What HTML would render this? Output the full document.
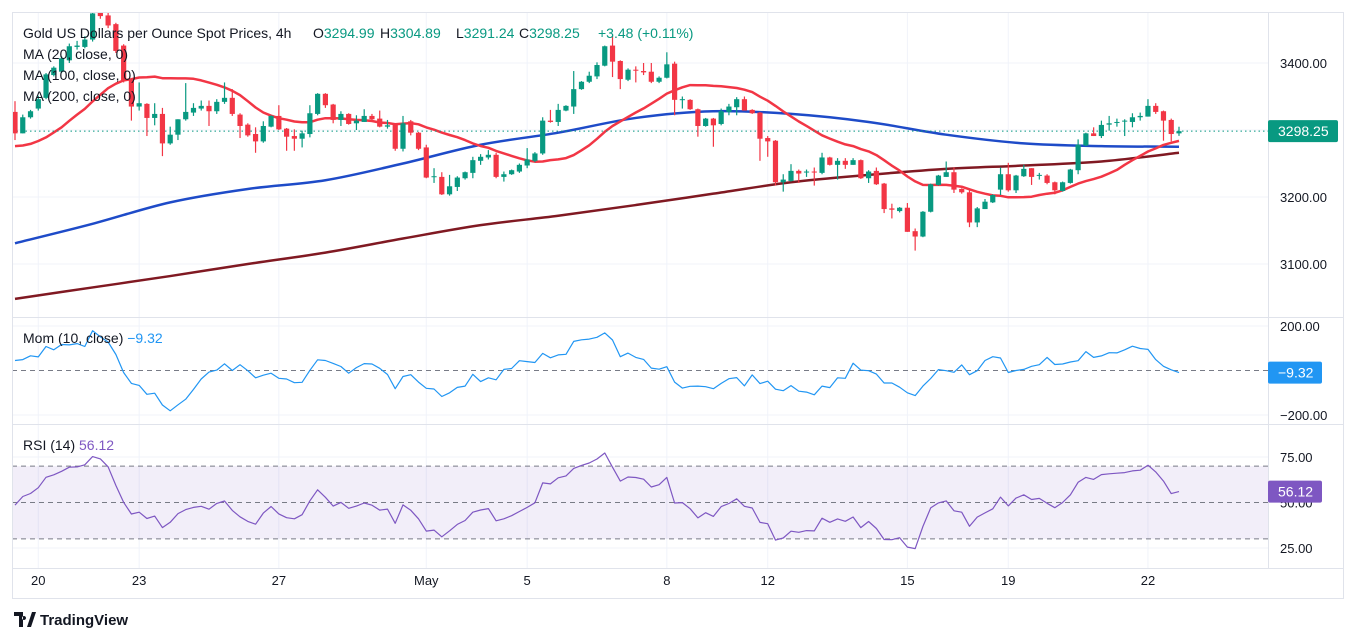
<!DOCTYPE html>
<html><head><meta charset="utf-8"><style>
html,body{margin:0;padding:0;background:#fff;width:1356px;height:641px;overflow:hidden}
svg{display:block;font-family:"Liberation Sans",sans-serif}
</style></head><body>
<svg id="chart" width="1356" height="641" viewBox="0 0 1356 641">
<defs>
<clipPath id="clipMain"><rect x="12" y="12" width="1256" height="305"/></clipPath>
<clipPath id="clipMom"><rect x="12" y="318" width="1256" height="106"/></clipPath>
<clipPath id="clipRsi"><rect x="12" y="425" width="1256" height="143"/></clipPath>
</defs>
<g id="grid"></g>
<g id="main" clip-path="url(#clipMain)"></g>
<g id="mom" clip-path="url(#clipMom)"></g>
<g id="rsi" clip-path="url(#clipRsi)"></g>
<g id="axes"></g>
<g id="legend">
 <text x="23" y="38" font-size="14" fill="#131722">Gold US Dollars per Ounce Spot Prices, 4h<tspan x="313">O</tspan><tspan fill="#089981">3294.99</tspan><tspan x="380">H</tspan><tspan fill="#089981">3304.89</tspan><tspan x="456">L</tspan><tspan fill="#089981">3291.24</tspan><tspan x="519">C</tspan><tspan fill="#089981">3298.25</tspan><tspan x="598" fill="#089981">+3.48 (+0.11%)</tspan></text>
 <text x="23" y="59" font-size="14" fill="#131722">MA (20, close, 0)</text>
 <text x="23" y="80" font-size="14" fill="#131722">MA (100, close, 0)</text>
 <text x="23" y="101" font-size="14" fill="#131722">MA (200, close, 0)</text>
 <text x="23" y="343" font-size="14" fill="#131722">Mom (10, close) <tspan fill="#2196f3">−9.32</tspan></text>
 <text x="23" y="450" font-size="14" fill="#131722">RSI (14) <tspan fill="#7e57c2">56.12</tspan></text>
</g>
<g>
 <path d="M14 612h9v15h-4v-11h-5z M24 616a2 2 0 1 0 0.01 0z M27 627l5-15h4l-5 15z" fill="#131722"/>
 <text x="40" y="625" font-size="15" font-weight="bold" fill="#131722">TradingView</text>
</g>
</svg>
<script>
const opens=[3327,3295,3319,3332,3348,3382,3387,3404,3424,3424,3435,3485,3471,3458,3426,3375,3335,3339,3318,3324,3280,3293,3316,3326,3332,3336,3328,3342,3348,3323,3308,3294,3283,3305,3321,3302,3291,3287,3294,3324,3354,3338,3315,3324,3310,3312,3321,3317,3305,3308,3272,3313,3296,3274,3230,3230,3204,3215,3228,3236,3254,3259,3263,3230,3234,3238,3247,3254,3265,3314,3312,3329,3335,3361,3372,3380,3396,3426,3403,3375,3390,3388,3387,3372,3378,3399,3345,3345,3331,3306,3317,3309,3327,3334,3346,3330,3326,3288,3284,3222,3224,3239,3237,3238,3236,3259,3248,3254,3248,3255,3228,3239,3220,3183,3179,3184,3149,3141,3178,3218,3230,3237,3212,3207,3162,3182,3192,3211,3234,3210,3231,3243,3232,3232,3222,3209,3221,3240,3277,3295,3291,3308,3311,3313,3312,3319,3320,3336,3328,3315,3294.99];
const highs=[3343,3323,3330,3351,3385,3395,3410,3429,3433,3440,3480,3500,3475,3460,3428,3376,3371,3340,3340,3333,3305,3316,3370,3340,3344,3344,3346,3371,3361,3325,3310,3304,3313,3322,3337,3303,3301,3299,3337,3355,3355,3339,3328,3325,3322,3331,3324,3329,3315,3309,3321,3315,3297,3278,3243,3237,3233,3231,3238,3260,3264,3270,3266,3238,3241,3250,3273,3267,3319,3330,3339,3337,3388,3373,3387,3401,3426,3440,3404,3392,3395,3400,3400,3380,3416,3402,3350,3346,3332,3318,3318,3332,3339,3349,3350,3331,3327,3291,3285,3234,3249,3241,3241,3244,3266,3260,3258,3258,3258,3256,3240,3244,3221,3190,3185,3191,3153,3179,3220,3233,3253,3244,3213,3210,3185,3197,3204,3244,3251,3233,3248,3243,3236,3234,3223,3223,3242,3286,3296,3304,3314,3321,3317,3316,3325,3326,3346,3340,3329,3317,3304.89];
const lows=[3285,3295,3317,3329,3346,3380,3385,3400,3420,3422,3432,3466,3452,3415,3371,3314,3329,3291,3307,3261,3278,3285,3314,3321,3329,3306,3324,3339,3321,3288,3290,3266,3281,3304,3300,3269,3269,3274,3289,3322,3333,3310,3306,3308,3300,3312,3312,3304,3302,3269,3268,3292,3270,3228,3221,3203,3202,3209,3226,3228,3248,3256,3228,3223,3233,3236,3243,3252,3263,3311,3306,3328,3324,3360,3370,3376,3395,3379,3361,3373,3371,3382,3370,3370,3377,3322,3332,3330,3290,3305,3275,3307,3322,3322,3329,3324,3254,3260,3217,3208,3223,3221,3230,3217,3234,3247,3226,3242,3248,3227,3221,3218,3176,3168,3177,3148,3120,3140,3177,3217,3230,3206,3205,3155,3155,3182,3191,3203,3208,3206,3230,3218,3226,3219,3204,3208,3220,3234,3276,3291,3288,3299,3305,3291,3304,3314,3320,3324,3284,3283,3291.24];
const closes=[3295,3319,3328,3346,3383,3393,3407,3425,3426,3435,3474,3470,3456,3418,3374,3335,3340,3318,3324,3280,3293,3316,3327,3333,3336,3328,3342,3348,3324,3306,3292,3283,3306,3321,3301,3290,3287,3295,3325,3354,3337,3315,3324,3309,3314,3321,3316,3305,3307,3272,3310,3296,3272,3229,3231,3204,3216,3229,3237,3255,3260,3263,3230,3234,3240,3248,3256,3265,3314,3312,3330,3336,3361,3372,3381,3397,3425,3402,3376,3390,3389,3386,3372,3378,3398,3345,3346,3331,3306,3317,3307,3328,3335,3346,3329,3325,3287,3283,3222,3226,3239,3235,3238,3237,3259,3248,3254,3248,3255,3228,3238,3219,3182,3181,3184,3148,3141,3178,3219,3232,3237,3211,3207,3162,3183,3193,3203,3234,3210,3232,3242,3230,3233,3221,3210,3222,3241,3278,3295,3291,3307.57,3310,3312,3314,3319,3321,3336,3327,3314,3294,3298.25];
const priorCloses=[3300,3280,3260,3275,3245,3255,3230,3240,3265,3250,3270,3262,3285,3275,3300,3290,3310,3305,3327];
const ma100Idx=[0,10,20,30,40,50,60,70,80,90,100,110,120,130,140,150];
const ma100Vals=[3131,3160,3192,3212,3225,3250,3278,3296,3318,3328,3324,3312,3293,3280,3276,3275];
const ma200Idx=[0,10,20,30,40,50,60,70,80,90,100,110,120,130,140,150];
const ma200Vals=[3048,3065,3082,3100,3117,3138,3158,3172,3188,3205,3222,3233,3242,3247,3253,3266];
const dateLabels=["20","23","27","May","5","8","12","15","19","22"];
const dateIdx=[3,16,34,53,66,84,97,115,128,146];
const priceTicks=[3400,3200,3100];
const priceGrid=[3400,3300,3200,3100];
const momTicks=[200,-200];
const rsiTicks=[75,50,25];
const lastPriceLabel="3298.25";
const lastMomLabel="−9.32";
const lastRsiLabel="56.12";

const NS="http://www.w3.org/2000/svg";
function mk(tag,attrs,parent){const e=document.createElementNS(NS,tag);for(const k in attrs)e.setAttribute(k,attrs[k]);parent.appendChild(e);return e;}
const X0=15,DX=7.76;
const xOf=i=>X0+DX*i;
const yP=p=>63+(3400-p)*0.67;
const yM=v=>370.5-v*0.2225;
const yR=v=>457+(75-v)*1.82;
const G=document.getElementById('grid'),M=document.getElementById('main'),MO=document.getElementById('mom'),R=document.getElementById('rsi'),A=document.getElementById('axes');

priceGrid.forEach(p=>{const l=mk('line',{x1:12,x2:1268,y1:yP(p),y2:yP(p),stroke:'#f0f3fa'},G);

});
momTicks.forEach(v=>{const l=mk('line',{x1:12,x2:1268,y1:yM(v),y2:yM(v),stroke:'#f0f3fa'},G);

});
[75,25].forEach(v=>{const l=mk('line',{x1:12,x2:1268,y1:yR(v),y2:yR(v),stroke:'#f0f3fa'},G);

});
dateIdx.forEach(i=>{const l=mk('line',{x1:xOf(i),x2:xOf(i),y1:12,y2:568,stroke:'#f0f3fa'},G);

});

function poly(pts,color,w,parent,name){const p=mk('polyline',{points:pts.map(q=>q[0].toFixed(1)+','+q[1].toFixed(1)).join(' '),fill:'none',stroke:color,'stroke-width':w,'stroke-linejoin':'round'},parent);


return p;}
function smooth(pts,color,w,parent,name){let d='M'+pts[0][0]+','+pts[0][1];
for(let i=0;i<pts.length-1;i++){const p0=pts[i-1]||pts[i],p1=pts[i],p2=pts[i+1],p3=pts[i+2]||p2;
d+=' C'+(p1[0]+(p2[0]-p0[0])/6)+','+(p1[1]+(p2[1]-p0[1])/6)+' '+(p2[0]-(p3[0]-p1[0])/6)+','+(p2[1]-(p3[1]-p1[1])/6)+' '+p2[0]+','+p2[1];}
const p=mk('path',{d,fill:'none',stroke:color,'stroke-width':w},parent);


return p;}
const all=priorCloses.concat(closes);const P=priorCloses.length;
smooth(ma200Idx.map((i,k)=>[xOf(i),yP(ma200Vals[k])]),'#801922',2.5,M,'ma200-line');
smooth(ma100Idx.map((i,k)=>[xOf(i),yP(ma100Vals[k])]),'#1e4bc8',2.5,M,'ma100-line');
const ma20=[];for(let i=0;i<closes.length;i++){let s=0;for(let k=0;k<20;k++)s+=all[P+i-k];ma20.push([xOf(i),yP(s/20)]);}
poly(ma20,'#f23645',2.5,M,'ma20-line');

const lp=mk('line',{x1:12,x2:1268,y1:yP(closes[closes.length-1]),y2:yP(closes[closes.length-1]),stroke:'#089981','stroke-dasharray':'1.5 3'},M);



for(let i=0;i<closes.length;i++){
 const up=closes[i]>=opens[i];const c=up?'#089981':'#f23645';const x=xOf(i);
 const g=mk('g',{},M);
 
 
 mk('line',{x1:x,x2:x,y1:yP(highs[i]),y2:yP(lows[i]),stroke:c,'stroke-width':1.2},g);
 const t=yP(Math.max(opens[i],closes[i])),b=yP(Math.min(opens[i],closes[i]));
 mk('rect',{x:x-2.6,y:t,width:5.2,height:Math.max(1,b-t),fill:c},g);
}

mk('line',{x1:12,x2:1268,y1:yM(0),y2:yM(0),stroke:'#787b86','stroke-dasharray':'5 4','stroke-width':1},MO);
const mom=[];for(let i=0;i<closes.length;i++)mom.push([xOf(i),yM(all[P+i]-all[P+i-10])]);
poly(mom,'#2196f3',1.2,MO,'momentum-line');

const band=mk('rect',{x:12,y:yR(70),width:1256,height:yR(30)-yR(70),fill:'#7e57c2','fill-opacity':0.1},R);


[70,50,30].forEach(v=>{const l=mk('line',{x1:12,x2:1268,y1:yR(v),y2:yR(v),stroke:'#787b86','stroke-dasharray':'5 4'},R);

});
const ch=[];for(let j=1;j<all.length;j++)ch.push(all[j]-all[j-1]);
let ag=0,al=0;for(let j=0;j<14;j++){ag+=Math.max(ch[j],0);al+=Math.max(-ch[j],0);}ag/=14;al/=14;
const rsiAll=[];rsiAll[14]=100-100/(1+ag/(al||1e-9));
for(let j=14;j<ch.length;j++){ag=(ag*13+Math.max(ch[j],0))/14;al=(al*13+Math.max(-ch[j],0))/14;rsiAll[j+1]=100-100/(1+ag/(al||1e-9));}
const rsi=[];for(let i=0;i<closes.length;i++)rsi.push([xOf(i),yR(rsiAll[P+i])]);
poly(rsi,'#7e57c2',1.2,R,'rsi-line');

function ln(x1,y1,x2,y2,name){const l=mk('line',{x1,y1,x2,y2,stroke:'#e0e3eb'},A);

}
mk('rect',{x:12.5,y:12.5,width:1331,height:586,fill:'none',stroke:'#e0e3eb'},A);
ln(12,317.5,1344,317.5,'pane-separator');
ln(12,424.5,1344,424.5,'pane-separator');
ln(12,568.5,1344,568.5,'time-axis-line');
ln(1268.5,12,1268.5,568,'price-axis-line');

function txt(x,y,s,name,opts){const t=mk('text',Object.assign({x,y,'font-size':13,fill:'#131722'},opts||{}),A);t.textContent=s;

return t;}
priceTicks.forEach(p=>txt(1280,yP(p)+5,p.toFixed(2),'price-tick'));
momTicks.forEach(v=>txt(1280,yM(v)+5,(v<0?'−':'')+Math.abs(v).toFixed(2),'mom-tick'));
rsiTicks.forEach(v=>txt(1280,yR(v)+5,v.toFixed(2),'rsi-tick'));
dateIdx.forEach((i,k)=>txt(xOf(i),585,dateLabels[k],'date-tick',{'text-anchor':'middle'}));

function badge(y,color,s,name,w){const g=mk('g',{},A);


mk('rect',{x:1268,y:y-11,width:w,height:22,rx:2,fill:color},g);
const t=mk('text',{x:1278,y:y+5,'font-size':14,fill:'#fff'},g);t.textContent=s;}
badge(yP(closes[closes.length-1]),'#089981',lastPriceLabel,'last-price-badge',70);
badge(yM(all[all.length-1]-all[all.length-11]),'#2196f3',lastMomLabel,'mom-value-badge',54);
badge(yR(rsiAll[rsiAll.length-1]),'#7e57c2',lastRsiLabel,'rsi-value-badge',54);
</script>
</body></html>
